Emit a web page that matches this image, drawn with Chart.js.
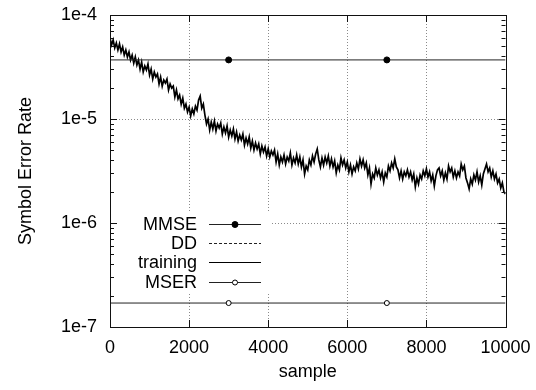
<!DOCTYPE html>
<html>
<head>
<meta charset="utf-8">
<script src="https://cdn.jsdelivr.net/npm/chart.js@4.4.0/dist/chart.umd.min.js"></script>
<style>
  html, body { margin: 0; padding: 0; background: #fff; }
</style>
</head>
<body>
<canvas id="canvas_ser" width="536" height="390"></canvas>
<script>
// sample spacing of the training curve
var sampleStep = 40;

// symbol error rate during training, one value every 40 samples
var trainingSer = [
  6.02e-5, 5.15e-5, 5.75e-5, 4.82e-5, 5.38e-5, 4.61e-5, 5.27e-5, 4.41e-5, 4.93e-5, 4.12e-5,
  4.61e-5, 3.95e-5, 4.41e-5, 3.69e-5, 4.12e-5, 3.45e-5, 3.95e-5, 3.30e-5, 3.69e-5, 3.02e-5,
  3.53e-5, 2.83e-5, 3.23e-5, 2.96e-5, 3.38e-5, 2.65e-5, 3.02e-5, 2.42e-5, 2.83e-5, 2.53e-5,
  2.71e-5, 2.17e-5, 2.53e-5, 2.07e-5, 2.37e-5, 2.22e-5, 2.42e-5, 1.90e-5, 2.17e-5, 1.98e-5,
  2.07e-5, 1.63e-5, 1.90e-5, 1.56e-5, 1.70e-5, 1.39e-5, 1.59e-5, 1.27e-5, 1.39e-5, 1.17e-5,
  1.30e-5, 1.07e-5, 1.25e-5, 1.12e-5, 1.33e-5, 1.22e-5, 1.52e-5, 1.66e-5, 1.27e-5, 1.39e-5,
  1.09e-5, 8.95e-6, 1.00e-5, 7.83e-6, 9.35e-6, 8.01e-6, 9.56e-6, 7.66e-6, 8.95e-6, 8.19e-6,
  9.15e-6, 7.17e-6, 8.37e-6, 7.33e-6, 8.56e-6, 6.71e-6, 7.83e-6, 6.86e-6, 8.01e-6, 6.42e-6,
  7.49e-6, 6.14e-6, 7.02e-6, 6.28e-6, 7.17e-6, 5.62e-6, 6.57e-6, 5.75e-6, 6.71e-6, 5.26e-6,
  6.14e-6, 5.03e-6, 5.88e-6, 5.15e-6, 5.75e-6, 4.61e-6, 5.50e-6, 4.82e-6, 5.38e-6, 4.41e-6,
  5.15e-6, 4.31e-6, 4.92e-6, 4.51e-6, 5.03e-6, 3.86e-6, 4.61e-6, 3.61e-6, 4.31e-6, 3.86e-6,
  4.51e-6, 3.69e-6, 4.31e-6, 3.95e-6, 4.71e-6, 3.61e-6, 4.22e-6, 3.78e-6, 4.51e-6, 3.69e-6,
  4.31e-6, 3.46e-6, 4.04e-6, 2.96e-6, 3.53e-6, 3.24e-6, 4.04e-6, 3.61e-6, 4.41e-6, 3.86e-6,
  4.61e-6, 5.15e-6, 4.04e-6, 3.46e-6, 4.22e-6, 3.61e-6, 4.31e-6, 3.78e-6, 4.41e-6, 3.53e-6,
  4.13e-6, 3.46e-6, 3.95e-6, 3.03e-6, 3.61e-6, 3.24e-6, 4.22e-6, 3.61e-6, 4.04e-6, 3.38e-6,
  3.86e-6, 3.10e-6, 3.61e-6, 2.96e-6, 3.46e-6, 3.17e-6, 3.78e-6, 3.31e-6, 4.13e-6, 3.53e-6,
  4.04e-6, 3.38e-6, 3.78e-6, 2.90e-6, 3.38e-6, 2.37e-6, 2.96e-6, 2.71e-6, 3.38e-6, 2.90e-6,
  3.24e-6, 2.71e-6, 3.10e-6, 2.48e-6, 3.03e-6, 2.77e-6, 3.53e-6, 3.17e-6, 3.78e-6, 3.38e-6,
  4.13e-6, 3.46e-6, 3.24e-6, 2.71e-6, 3.17e-6, 2.65e-6, 3.10e-6, 2.84e-6, 3.24e-6, 2.77e-6,
  3.10e-6, 2.59e-6, 2.96e-6, 2.22e-6, 2.71e-6, 2.37e-6, 2.90e-6, 2.65e-6, 3.17e-6, 2.84e-6,
  3.31e-6, 2.77e-6, 3.10e-6, 2.54e-6, 2.90e-6, 2.27e-6, 2.84e-6, 3.24e-6, 3.38e-6, 2.84e-6,
  3.17e-6, 2.59e-6, 3.03e-6, 2.65e-6, 3.53e-6, 3.10e-6, 3.38e-6, 2.77e-6, 3.17e-6, 2.71e-6,
  3.10e-6, 2.84e-6, 3.69e-6, 3.24e-6, 3.53e-6, 2.71e-6, 2.43e-6, 2.13e-6, 2.65e-6, 2.37e-6,
  2.90e-6, 2.59e-6, 3.10e-6, 2.48e-6, 2.84e-6, 2.32e-6, 2.96e-6, 3.31e-6, 3.69e-6, 3.10e-6,
  3.38e-6, 2.77e-6, 3.17e-6, 2.65e-6, 2.96e-6, 2.43e-6, 2.65e-6, 2.17e-6, 2.43e-6, 1.99e-6,
  1.90e-6
];

// flat reference levels
var mmseLevel = 3.7e-5;
var mserLevel = 1.7e-7;
var markerSamples = [3000, 7000];
var sampleRange = [0, 10000];

// tick labels
var xTicks = [0, 2000, 4000, 6000, 8000, 10000];
var yDecades = [1e-7, 1e-6, 1e-5, 1e-4];

var FONT = "'Liberation Sans', Arial, Helvetica, sans-serif";

function levelLine(level) {
  var pts = [{x: sampleRange[0], y: level}];
  markerSamples.forEach(function (s) { pts.push({x: s, y: level}); });
  pts.push({x: sampleRange[1], y: level});
  return pts;
}

function markerRadius(r) {
  return function (ctx) {
    return ctx.raw && markerSamples.indexOf(ctx.raw.x) >= 0 ? r : 0;
  };
}

var trainingPts = trainingSer.map(function (v, i) { return {x: i * sampleStep, y: v}; });

var yTickValues = [];
yDecades.forEach(function (d, k) {
  if (k === yDecades.length - 1) { yTickValues.push(d); return; }
  for (var m = 1; m <= 9; m++) yTickValues.push(m * d);
});

// gnuplot-ish frame, inward ticks and boxed key
var framePlugin = {
  id: 'frame',
  beforeDatasetsDraw: function (chart) {
    var a = chart.chartArea, c = chart.ctx;
    c.save();
    c.fillStyle = '#fff';
    c.fillRect(a.left, a.bottom - 114, 162, 79);
    c.restore();
  },
  afterDatasetsDraw: function (chart) {
    var a = chart.chartArea, c = chart.ctx;
    var xs = chart.scales.x, ys = chart.scales.y;
    c.save();
    c.strokeStyle = '#111';
    c.lineWidth = 1;
    // ticks
    c.beginPath();
    yTickValues.forEach(function (v) {
      var y = Math.round(ys.getPixelForValue(v)) + 0.5;
      var len = yDecades.indexOf(v) >= 0 ? 7 : 4;
      c.moveTo(a.left, y); c.lineTo(a.left + len, y);
      c.moveTo(a.right, y); c.lineTo(a.right - len, y);
    });
    xTicks.forEach(function (v) {
      var x = Math.round(xs.getPixelForValue(v)) + 0.5;
      c.moveTo(x, a.bottom); c.lineTo(x, a.bottom - 7);
      c.moveTo(x, a.top); c.lineTo(x, a.top + 7);
    });
    c.stroke();
    c.strokeRect(Math.round(a.left) + 0.5, Math.round(a.top) + 0.5,
      Math.round(a.right - a.left), Math.round(a.bottom - a.top));

    // key
    var textRight = a.left + 87, lx0 = a.left + 99, lx1 = a.left + 151;
    var rowY = [a.bottom - 103, a.bottom - 84, a.bottom - 65, a.bottom - 45.5];
    c.font = '18px ' + FONT;
    c.textAlign = 'right';
    c.textBaseline = 'middle';
    chart.data.datasets.forEach(function (ds, i) {
      var y = Math.round(rowY[i]) + 0.5;
      c.fillStyle = '#000';
      c.fillText(ds.label, textRight, y + 1);
      c.strokeStyle = ds.borderColor;
      c.lineWidth = 1;
      c.setLineDash(ds.borderDash || []);
      c.beginPath(); c.moveTo(lx0, y); c.lineTo(lx1, y); c.stroke();
      c.setLineDash([]);
      if (ds.keyMarker) {
        c.beginPath();
        c.arc((lx0 + lx1) / 2, y, ds.keyMarker === 'filled' ? 3 : 2.5, 0, Math.PI * 2);
        c.fillStyle = ds.keyMarker === 'filled' ? '#000' : '#fff';
        c.fill();
        c.strokeStyle = '#000';
        c.stroke();
      }
    });
    c.restore();
  }
};

var ctx = document.getElementById('canvas_ser');
var serChart = new Chart(ctx, {
  type: 'line',
  data: {
    datasets: [
      {
        label: 'MMSE',
        data: levelLine(mmseLevel),
        borderColor: '#222',
        borderWidth: 1,
        pointRadius: markerRadius(3),
        pointBackgroundColor: '#000',
        pointBorderColor: '#000',
        keyMarker: 'filled'
      }, {
        label: 'DD',
        data: [],
        borderColor: '#222',
        borderWidth: 1,
        borderDash: [3, 2],
        pointRadius: 0
      }, {
        label: 'training',
        data: trainingPts,
        borderColor: '#000',
        borderWidth: 1.7,
        pointRadius: 0
      }, {
        label: 'MSER',
        data: levelLine(mserLevel),
        borderColor: '#222',
        borderWidth: 1,
        pointRadius: markerRadius(2.5),
        pointBackgroundColor: '#fff',
        pointBorderColor: '#000',
        keyMarker: 'open'
      }
    ]
  },
  options: {
    responsive: false,
    animation: false,
    layout: { padding: { left: 0, right: 30.5, top: 15, bottom: 0 } },
    plugins: {
      legend: { display: false },
      tooltip: { enabled: false }
    },
    scales: {
      x: {
        type: 'linear',
        min: sampleRange[0],
        max: sampleRange[1],
        afterBuildTicks: function (scale) {
          scale.ticks = xTicks.map(function (v) { return {value: v}; });
        },
        afterFit: function (scale) {
          scale.height = 63;
          scale.paddingLeft = 0;
          scale.paddingRight = 0;
        },
        ticks: {
          autoSkip: false,
          maxRotation: 0,
          padding: 10,
          color: '#000',
          font: { family: FONT, size: 18 },
          callback: function (v) { return String(v); }
        },
        grid: {
          drawTicks: false,
          tickLength: 0,
          lineWidth: 1,
          color: function (c) {
            var v = c.tick && c.tick.value;
            return (v > sampleRange[0] && v < sampleRange[1]) ? '#8a8a8a' : 'rgba(0,0,0,0)';
          }
        },
        border: { display: false, dash: [1, 2] },
        title: {
          display: true,
          text: 'sample',
          color: '#000',
          font: { family: FONT, size: 18 },
          padding: { top: 0, bottom: 7 }
        }
      },
      y: {
        type: 'logarithmic',
        min: yDecades[0],
        max: yDecades[yDecades.length - 1],
        afterBuildTicks: function (scale) {
          scale.ticks = yTickValues.map(function (v) { return {value: v}; });
        },
        afterFit: function (scale) {
          scale.width = 110;
          scale.paddingTop = 0;
          scale.paddingBottom = 0;
        },
        ticks: {
          autoSkip: false,
          padding: 13,
          color: '#000',
          font: { family: FONT, size: 18 },
          callback: function (v) {
            return yDecades.indexOf(v) >= 0 ? v.toExponential(0) : '';
          }
        },
        grid: {
          drawTicks: false,
          tickLength: 0,
          lineWidth: 1,
          color: function (c) {
            var v = c.tick && c.tick.value;
            var k = yDecades.indexOf(v);
            return (k > 0 && k < yDecades.length - 1) ? '#8a8a8a' : 'rgba(0,0,0,0)';
          }
        },
        border: { display: false, dash: [1, 2] },
        title: {
          display: true,
          text: 'Symbol Error Rate',
          color: '#000',
          font: { family: FONT, size: 18 },
          padding: { top: 15, bottom: 0 }
        }
      }
    }
  },
  plugins: [framePlugin]
});
</script>
</body>
</html>
